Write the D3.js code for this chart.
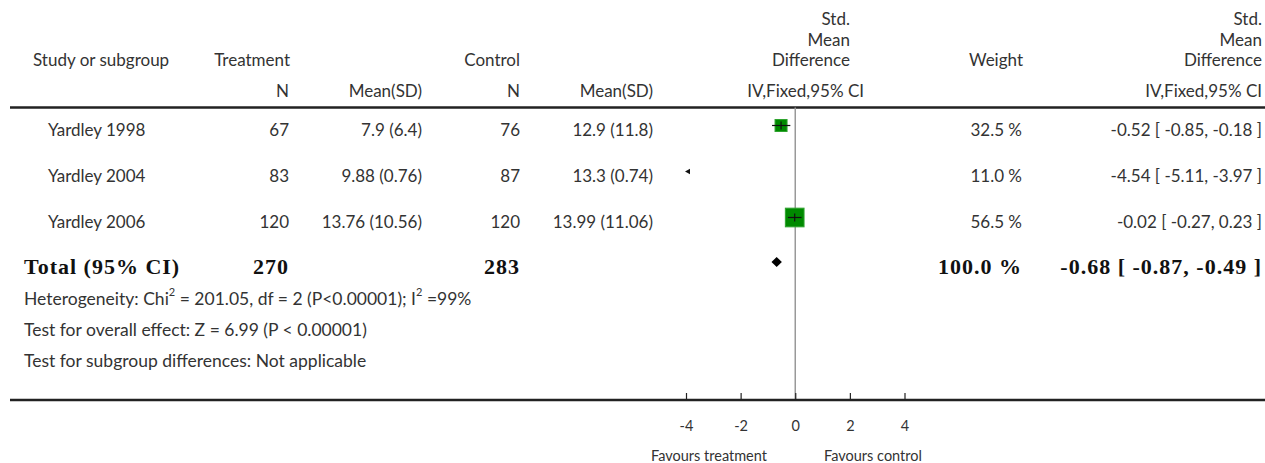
<!DOCTYPE html>
<html>
<head>
<meta charset="utf-8">
<script src="https://cdn.jsdelivr.net/npm/d3@7"></script>
<style>
  html, body { margin: 0; padding: 0; background: #fff; }
  svg { display: block; }
  .sans { font-family: Lato, "Open Sans", sans-serif; fill: #333; }
  .serif { font-family: "Liberation Serif", "DejaVu Serif", serif; font-weight: bold; fill: #111; letter-spacing: 1px; }
</style>
</head>
<body>
<svg id="chart" width="1265" height="463"></svg>
<script>
// Study-level data
const studies   = ["Yardley 1998", "Yardley 2004", "Yardley 2006"];
const nTreat    = [67, 83, 120];
const meanTreat = [7.9, 9.88, 13.76];
const sdTreat   = [6.4, 0.76, 10.56];
const nCtrl     = [76, 87, 120];
const meanCtrl  = [12.9, 13.3, 13.99];
const sdCtrl    = [11.8, 0.74, 11.06];
const weights   = [32.5, 11.0, 56.5];
const smd       = [-0.52, -4.54, -0.02];
const ciLow     = [-0.85, -5.11, -0.27];
const ciHigh    = [-0.18, -3.97, 0.23];

// Pooled estimate
const totalLabel  = "Total (95% CI)";
const totalNTreat = 270;
const totalNCtrl  = 283;
const totalWeight = 100.0;
const totalSmd    = -0.68;
const totalLow    = -0.87;
const totalHigh   = -0.49;

const axisTicks = [-4, -2, 0, 2, 4];
const footLines = [
  ["Heterogeneity: Chi", "2", " = 201.05, df = 2 (P<0.00001); I", "2", " =99%"],
  ["Test for overall effect: Z = 6.99 (P < 0.00001)"],
  ["Test for subgroup differences: Not applicable"]
];

const svg = d3.select("#chart");
// plain hyphen for negative numbers
const locale = d3.formatLocale({ decimal: ".", thousands: ",", grouping: [3], currency: ["", ""], minus: "-" });
const f2 = locale.format(".2f");
const fInt = locale.format("d");
const fmtCI = (m, l, h) => `${f2(m)} [ ${f2(l)}, ${f2(h)} ]`;

// Layout
const col = { study: 48, nT: 289, mT: 422, nC: 520, mC: 653, w: 1022, ci: 1262 };
const rowY = d3.scalePoint().domain(studies).range([129, 221]);
const totalY = 266;
const topRule = 107.5, axisY = 400;
const x = d3.scaleLinear().domain([-4, 4]).range([686, 904.5]);
const boxSize = d3.scalePow().exponent(0.8).domain([0, 100]).range([0, 29.5]);

function txt(g, xp, yp, s, anchor, cls, size) {
  return g.append("text").attr("x", xp).attr("y", yp)
    .attr("class", cls).attr("font-size", size)
    .attr("text-anchor", anchor).attr("dominant-baseline", "central").text(s);
}

// Header
const hdr = svg.append("g");
const fs = 17;
txt(hdr, 33, 59, "Study or subgroup", "start", "sans", fs);
txt(hdr, 290, 59, "Treatment", "end", "sans", fs);
txt(hdr, 520, 59, "Control", "end", "sans", fs);
txt(hdr, 1023, 59, "Weight", "end", "sans", fs);
[["Std.", 18], ["Mean", 39], ["Difference", 59]].forEach(([s, yy]) => {
  txt(hdr, 850, yy, s, "end", "sans", fs);
  txt(hdr, 1262, yy, s, "end", "sans", fs);
});
txt(hdr, col.nT, 90, "N", "end", "sans", fs);
txt(hdr, col.mT, 90, "Mean(SD)", "end", "sans", fs);
txt(hdr, col.nC, 90, "N", "end", "sans", fs);
txt(hdr, col.mC, 90, "Mean(SD)", "end", "sans", fs);
txt(hdr, 864, 90, "IV,Fixed,95% CI", "end", "sans", fs);
txt(hdr, 1262, 90, "IV,Fixed,95% CI", "end", "sans", fs);

// Rules
svg.append("line").attr("x1", 10).attr("x2", 1265).attr("y1", topRule).attr("y2", topRule)
  .attr("stroke", "#222").attr("stroke-width", 2.5);
svg.append("line").attr("x1", x(0)).attr("x2", x(0)).attr("y1", topRule).attr("y2", axisY)
  .attr("stroke", "#999").attr("stroke-width", 1.5);

// Study rows
const rows = svg.append("g");
studies.forEach((s, i) => {
  const y = rowY(s);
  txt(rows, col.study, y, s, "start", "sans", fs);
  txt(rows, col.nT, y, nTreat[i], "end", "sans", fs);
  txt(rows, col.mT, y, `${meanTreat[i]} (${sdTreat[i]})`, "end", "sans", fs);
  txt(rows, col.nC, y, nCtrl[i], "end", "sans", fs);
  txt(rows, col.mC, y, `${meanCtrl[i]} (${sdCtrl[i]})`, "end", "sans", fs);
  txt(rows, col.w, y, `${weights[i].toFixed(1)} %`, "end", "sans", fs);
  txt(rows, col.ci, y, fmtCI(smd[i], ciLow[i], ciHigh[i]), "end", "sans", fs);
});

// Forest marks
const [dMin, dMax] = x.domain();
const marks = svg.append("g");
studies.forEach((s, i) => {
  const yc = rowY(s) - 3.5;
  const inside = smd[i] >= dMin && smd[i] <= dMax;
  if (inside) {
    const side = boxSize(weights[i]);
    marks.append("rect")
      .attr("x", x(smd[i]) - side / 2).attr("y", yc - side / 2)
      .attr("width", side).attr("height", side)
      .attr("fill", "#008a00").attr("stroke", "#2fa32f").attr("stroke-width", 1);
    marks.append("line")
      .attr("x1", x(Math.max(ciLow[i], dMin))).attr("x2", x(Math.min(ciHigh[i], dMax)))
      .attr("y1", yc).attr("y2", yc).attr("stroke", "#111").attr("stroke-width", 1.2);
    marks.append("line")
      .attr("x1", x(smd[i])).attr("x2", x(smd[i]))
      .attr("y1", yc - 4).attr("y2", yc + 4).attr("stroke", "#111").attr("stroke-width", 1.2);
  } else if (smd[i] < dMin) {
    // estimate lies left of the displayed range: arrow at the edge
    const ax = x(dMin);
    marks.append("path")
      .attr("d", `M${ax - 1},${yc} L${ax + 4},${yc - 2.8} L${ax + 4},${yc + 2.8} Z`)
      .attr("fill", "#111");
  } else {
    const ax = x(dMax);
    marks.append("path")
      .attr("d", `M${ax + 1},${yc} L${ax - 4},${yc - 2.8} L${ax - 4},${yc + 2.8} Z`)
      .attr("fill", "#111");
  }
});

// Pooled diamond
const dy = totalY - 4;
marks.append("path")
  .attr("d", `M${x(totalLow)},${dy} L${x(totalSmd)},${dy - 5} L${x(totalHigh)},${dy} L${x(totalSmd)},${dy + 5} Z`)
  .attr("fill", "#000");

// Total row
const tfs = 22;
txt(rows, 24, totalY, totalLabel, "start", "serif", tfs);
txt(rows, col.nT, totalY, totalNTreat, "end", "serif", tfs);
txt(rows, col.nC, totalY, totalNCtrl, "end", "serif", tfs);
txt(rows, col.w, totalY, `${totalWeight.toFixed(1)} %`, "end", "serif", tfs);
txt(rows, col.ci, totalY, fmtCI(totalSmd, totalLow, totalHigh), "end", "serif", tfs);

// Footnotes
const foot = svg.append("g");
const ffs = 17.5;
footLines.forEach((parts, k) => {
  const t = foot.append("text").attr("x", 24).attr("y", 298 + k * 31)
    .attr("class", "sans").attr("font-size", ffs).attr("dominant-baseline", "central");
  parts.forEach((p, j) => {
    const sup = parts.length > 1 && (j % 2 === 1);
    t.append("tspan").text(p)
      .attr("font-size", sup ? 11 : ffs)
      .attr("dy", sup ? -7 : (j > 0 ? 7 : 0));
  });
});

// Axis
svg.append("line").attr("x1", 10).attr("x2", 1265).attr("y1", axisY).attr("y2", axisY)
  .attr("stroke", "#222").attr("stroke-width", 2.5);
const axis = svg.append("g").attr("transform", `translate(0,${axisY})`)
  .call(d3.axisBottom(x).tickValues(axisTicks).tickSize(-7).tickPadding(21).tickFormat(fInt));
axis.select(".domain").remove();
axis.selectAll(".tick line").attr("stroke", "#222").attr("stroke-width", 1.2);
axis.selectAll(".tick text").attr("font-family", "Lato, 'Open Sans', sans-serif")
  .attr("font-size", 14.5).attr("fill", "#333");

txt(svg, 709, 455, "Favours treatment", "middle", "sans", 14.5);
txt(svg, 873, 455, "Favours control", "middle", "sans", 14.5);
</script>
</body>
</html>
